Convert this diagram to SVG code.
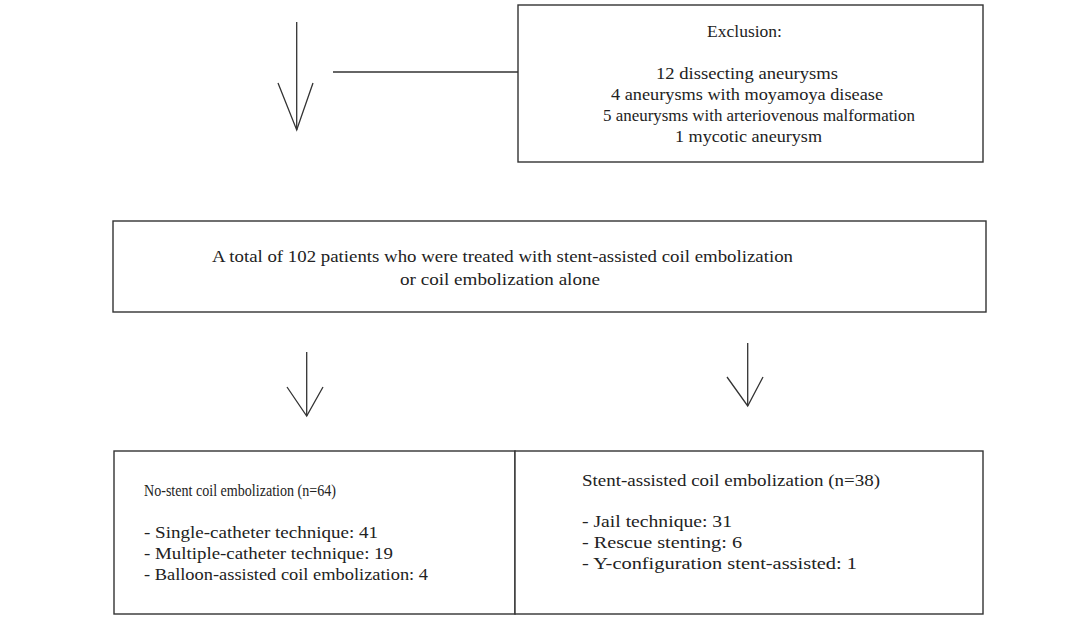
<svg xmlns="http://www.w3.org/2000/svg" width="1069" height="622" viewBox="0 0 1069 622">
<style>
.box{fill:#fff;stroke:#333;stroke-width:1.4}
.ln{fill:none;stroke:#333;stroke-width:1.3}
text{font-family:"Liberation Serif","DejaVu Serif",serif;font-size:17px;fill:#222}
</style>
<rect width="1069" height="622" fill="#fff"/>
<g id="connectors">
<line class="ln" x1="296.7" y1="22" x2="296.7" y2="130"/>
<polyline class="ln" points="278,83 296.7,130 313,83"/>
<line class="ln" x1="333" y1="72" x2="518" y2="72"/>
<line class="ln" x1="306.7" y1="352" x2="306.7" y2="416"/>
<polyline class="ln" points="287,387 306.7,416 323,387"/>
<line class="ln" x1="747.7" y1="343" x2="747.7" y2="406"/>
<polyline class="ln" points="727,377 747.7,406 763,377"/>
</g>
<g id="exclusion">
<rect class="box" x="518" y="5" width="465" height="157"/>
<text x="707" y="37" textLength="75" lengthAdjust="spacingAndGlyphs">Exclusion:</text>
<text x="656" y="79" textLength="182" lengthAdjust="spacingAndGlyphs">12 dissecting aneurysms</text>
<text x="611" y="100" textLength="272" lengthAdjust="spacingAndGlyphs">4 aneurysms with moyamoya disease</text>
<text x="603" y="121" textLength="312" lengthAdjust="spacingAndGlyphs">5 aneurysms with arteriovenous malformation</text>
<text x="675" y="142" textLength="147" lengthAdjust="spacingAndGlyphs">1 mycotic aneurysm</text>
</g>
<g id="total">
<rect class="box" x="113" y="221" width="873" height="91"/>
<text x="212" y="262" textLength="581" lengthAdjust="spacingAndGlyphs">A total of 102 patients who were treated with stent-assisted coil embolization</text>
<text x="400" y="285" textLength="200" lengthAdjust="spacingAndGlyphs">or coil embolization alone</text>
</g>
<g id="nostent">
<rect class="box" x="114" y="451" width="401" height="163"/>
<text x="144" y="496" textLength="192" lengthAdjust="spacingAndGlyphs">No-stent coil embolization (n=64)</text>
<text x="144" y="538" textLength="234" lengthAdjust="spacingAndGlyphs">- Single-catheter technique: 41</text>
<text x="144" y="559" textLength="249" lengthAdjust="spacingAndGlyphs">- Multiple-catheter technique: 19</text>
<text x="144" y="580" textLength="284" lengthAdjust="spacingAndGlyphs">- Balloon-assisted coil embolization: 4</text>
</g>
<g id="stent">
<rect class="box" x="515" y="451" width="468" height="163"/>
<text x="582" y="486" textLength="298" lengthAdjust="spacingAndGlyphs">Stent-assisted coil embolization (n=38)</text>
<text x="582" y="527" textLength="150" lengthAdjust="spacingAndGlyphs">- Jail technique: 31</text>
<text x="582" y="548" textLength="160" lengthAdjust="spacingAndGlyphs">- Rescue stenting: 6</text>
<text x="582" y="569" textLength="275" lengthAdjust="spacingAndGlyphs">- Y-configuration stent-assisted: 1</text>
</g>
</svg>
